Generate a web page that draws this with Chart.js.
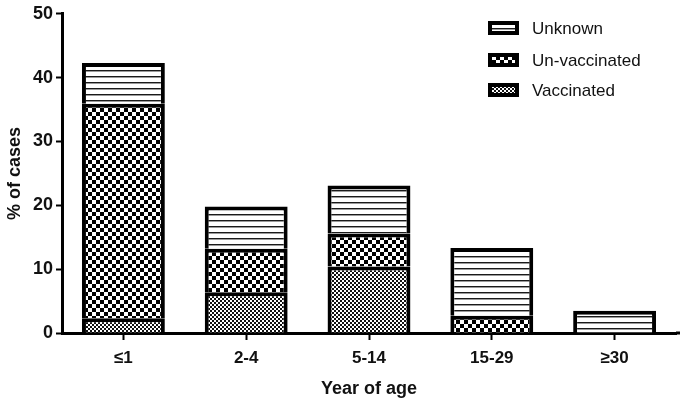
<!DOCTYPE html>
<html>
<head>
<meta charset="utf-8">
<script src="https://cdn.jsdelivr.net/npm/chart.js@4/dist/chart.umd.min.js"></script>
<style>
  html, body { margin: 0; padding: 0; background: #ffffff; }
  #wrap { width: 682px; height: 404px; position: relative; }
</style>
</head>
<body>
<div id="wrap"><canvas id="c" width="682" height="404"></canvas></div>
<script>
// ---- data ----
const categories = ['≤1', '2-4', '5-14', '15-29', '≥30'];
const vaccinated = [2.3, 6.4, 10.4, 0, 0];
const unvaccinated = [33.6, 6.8, 5.2, 2.7, 0];
const unknown = [6.4, 6.6, 7.5, 10.6, 3.5];
const seriesNames = ['Vaccinated', 'Un-vaccinated', 'Unknown'];
const yTicks = [0, 10, 20, 30, 40, 50];

const FONT = "'Liberation Sans', Arial, Helvetica, sans-serif";

function makePattern(type) {
  const c = document.createElement('canvas');
  const ctx = c.getContext('2d');
  if (type === 'lines') {
    c.width = 8; c.height = 6;
    ctx.fillStyle = '#fff'; ctx.fillRect(0, 0, 8, 6);
    ctx.fillStyle = '#1a1a1a'; ctx.fillRect(0, 4, 8, 1);
    ctx.fillStyle = '#9a9a9a'; ctx.fillRect(0, 5, 8, 1);
  } else if (type === 'bigcheck') {
    c.width = 8; c.height = 8;
    ctx.fillStyle = '#fff'; ctx.fillRect(0, 0, 8, 8);
    ctx.fillStyle = '#000';
    ctx.fillRect(0, 0, 4, 4); ctx.fillRect(4, 4, 4, 4);
  } else {
    c.width = 4; c.height = 4;
    ctx.fillStyle = '#fff'; ctx.fillRect(0, 0, 4, 4);
    ctx.fillStyle = '#111';
    ctx.fillRect(0, 0, 2, 2); ctx.fillRect(2, 2, 2, 2);
  }
  return ctx.createPattern(c, 'repeat');
}

const pats = {
  vacc: makePattern('smallcheck'),
  unvacc: makePattern('bigcheck'),
  unk: makePattern('lines')
};

const legendPlugin = {
  id: 'customLegend',
  afterDraw(chart) {
    const ctx = chart.ctx;
    const ds = chart.data.datasets.slice().reverse();
    const x0 = 488, ys = [28, 60, 90];
    ctx.save();
    // extend x axis line slightly past the last category, as in the original
    const ca = chart.chartArea;
    ctx.fillStyle = '#000';
    ctx.fillRect(ca.right, ca.bottom - 1.5, 4, 3);
    ds.forEach((d, i) => {
      const y = ys[i];
      ctx.fillStyle = '#000';
      ctx.fillRect(x0, y - 7, 31, 14);
      ctx.fillStyle = d.backgroundColor;
      ctx.fillRect(x0 + 4, y - 3, 23, 6);
      ctx.fillStyle = '#111';
      ctx.font = '17px ' + FONT;
      ctx.textBaseline = 'middle';
      ctx.textAlign = 'left';
      ctx.fillText(d.label, x0 + 44, y + 1);
    });
    ctx.restore();
  }
};

const common = {
  borderColor: '#000',
  borderWidth: { top: 4, left: 4, right: 4, bottom: 0 },
  borderSkipped: false,
  inflateAmount: 0,
  barPercentage: 0.675,
  categoryPercentage: 1.0
};

new Chart(document.getElementById('c'), {
  type: 'bar',
  data: {
    labels: categories,
    datasets: [
      Object.assign({ label: seriesNames[0], data: vaccinated, backgroundColor: pats.vacc }, common),
      Object.assign({ label: seriesNames[1], data: unvaccinated, backgroundColor: pats.unvacc }, common),
      Object.assign({ label: seriesNames[2], data: unknown, backgroundColor: pats.unk }, common)
    ]
  },
  options: {
    responsive: false,
    animation: false,
    devicePixelRatio: 1,
    layout: { padding: { top: 13, right: 6, left: 0, bottom: 0 } },
    plugins: { legend: { display: false }, tooltip: { enabled: false } },
    scales: {
      x: {
        stacked: true,
        grid: { display: true, drawOnChartArea: false, drawTicks: true, tickLength: 7, tickWidth: 2, tickColor: '#000', offset: false },
        border: { display: true, color: '#000', width: 3 },
        ticks: { color: '#111', font: { family: FONT, size: 17, weight: 'bold' }, padding: 8, maxRotation: 0 },
        title: { display: true, text: 'Year of age', color: '#111', font: { family: FONT, size: 18, weight: 'bold' }, padding: { top: 2 } },
        afterFit(s) { s.height = 71; }
      },
      y: {
        stacked: true,
        min: 0, max: 50,
        afterBuildTicks(s) { s.ticks = yTicks.map(v => ({ value: v })); },
        grid: { display: true, drawOnChartArea: false, drawTicks: true, tickLength: 6, tickWidth: 2, tickColor: '#000' },
        border: { display: true, color: '#000', width: 3 },
        ticks: { color: '#111', font: { family: FONT, size: 18, weight: 'bold' }, padding: 3 },
        title: { display: true, text: '% of cases', color: '#111', font: { family: FONT, size: 18, weight: 'bold' }, padding: { bottom: 2 } },
        afterFit(s) { s.width = 62; }
      }
    }
  },
  plugins: [legendPlugin]
});
</script>
</body>
</html>
